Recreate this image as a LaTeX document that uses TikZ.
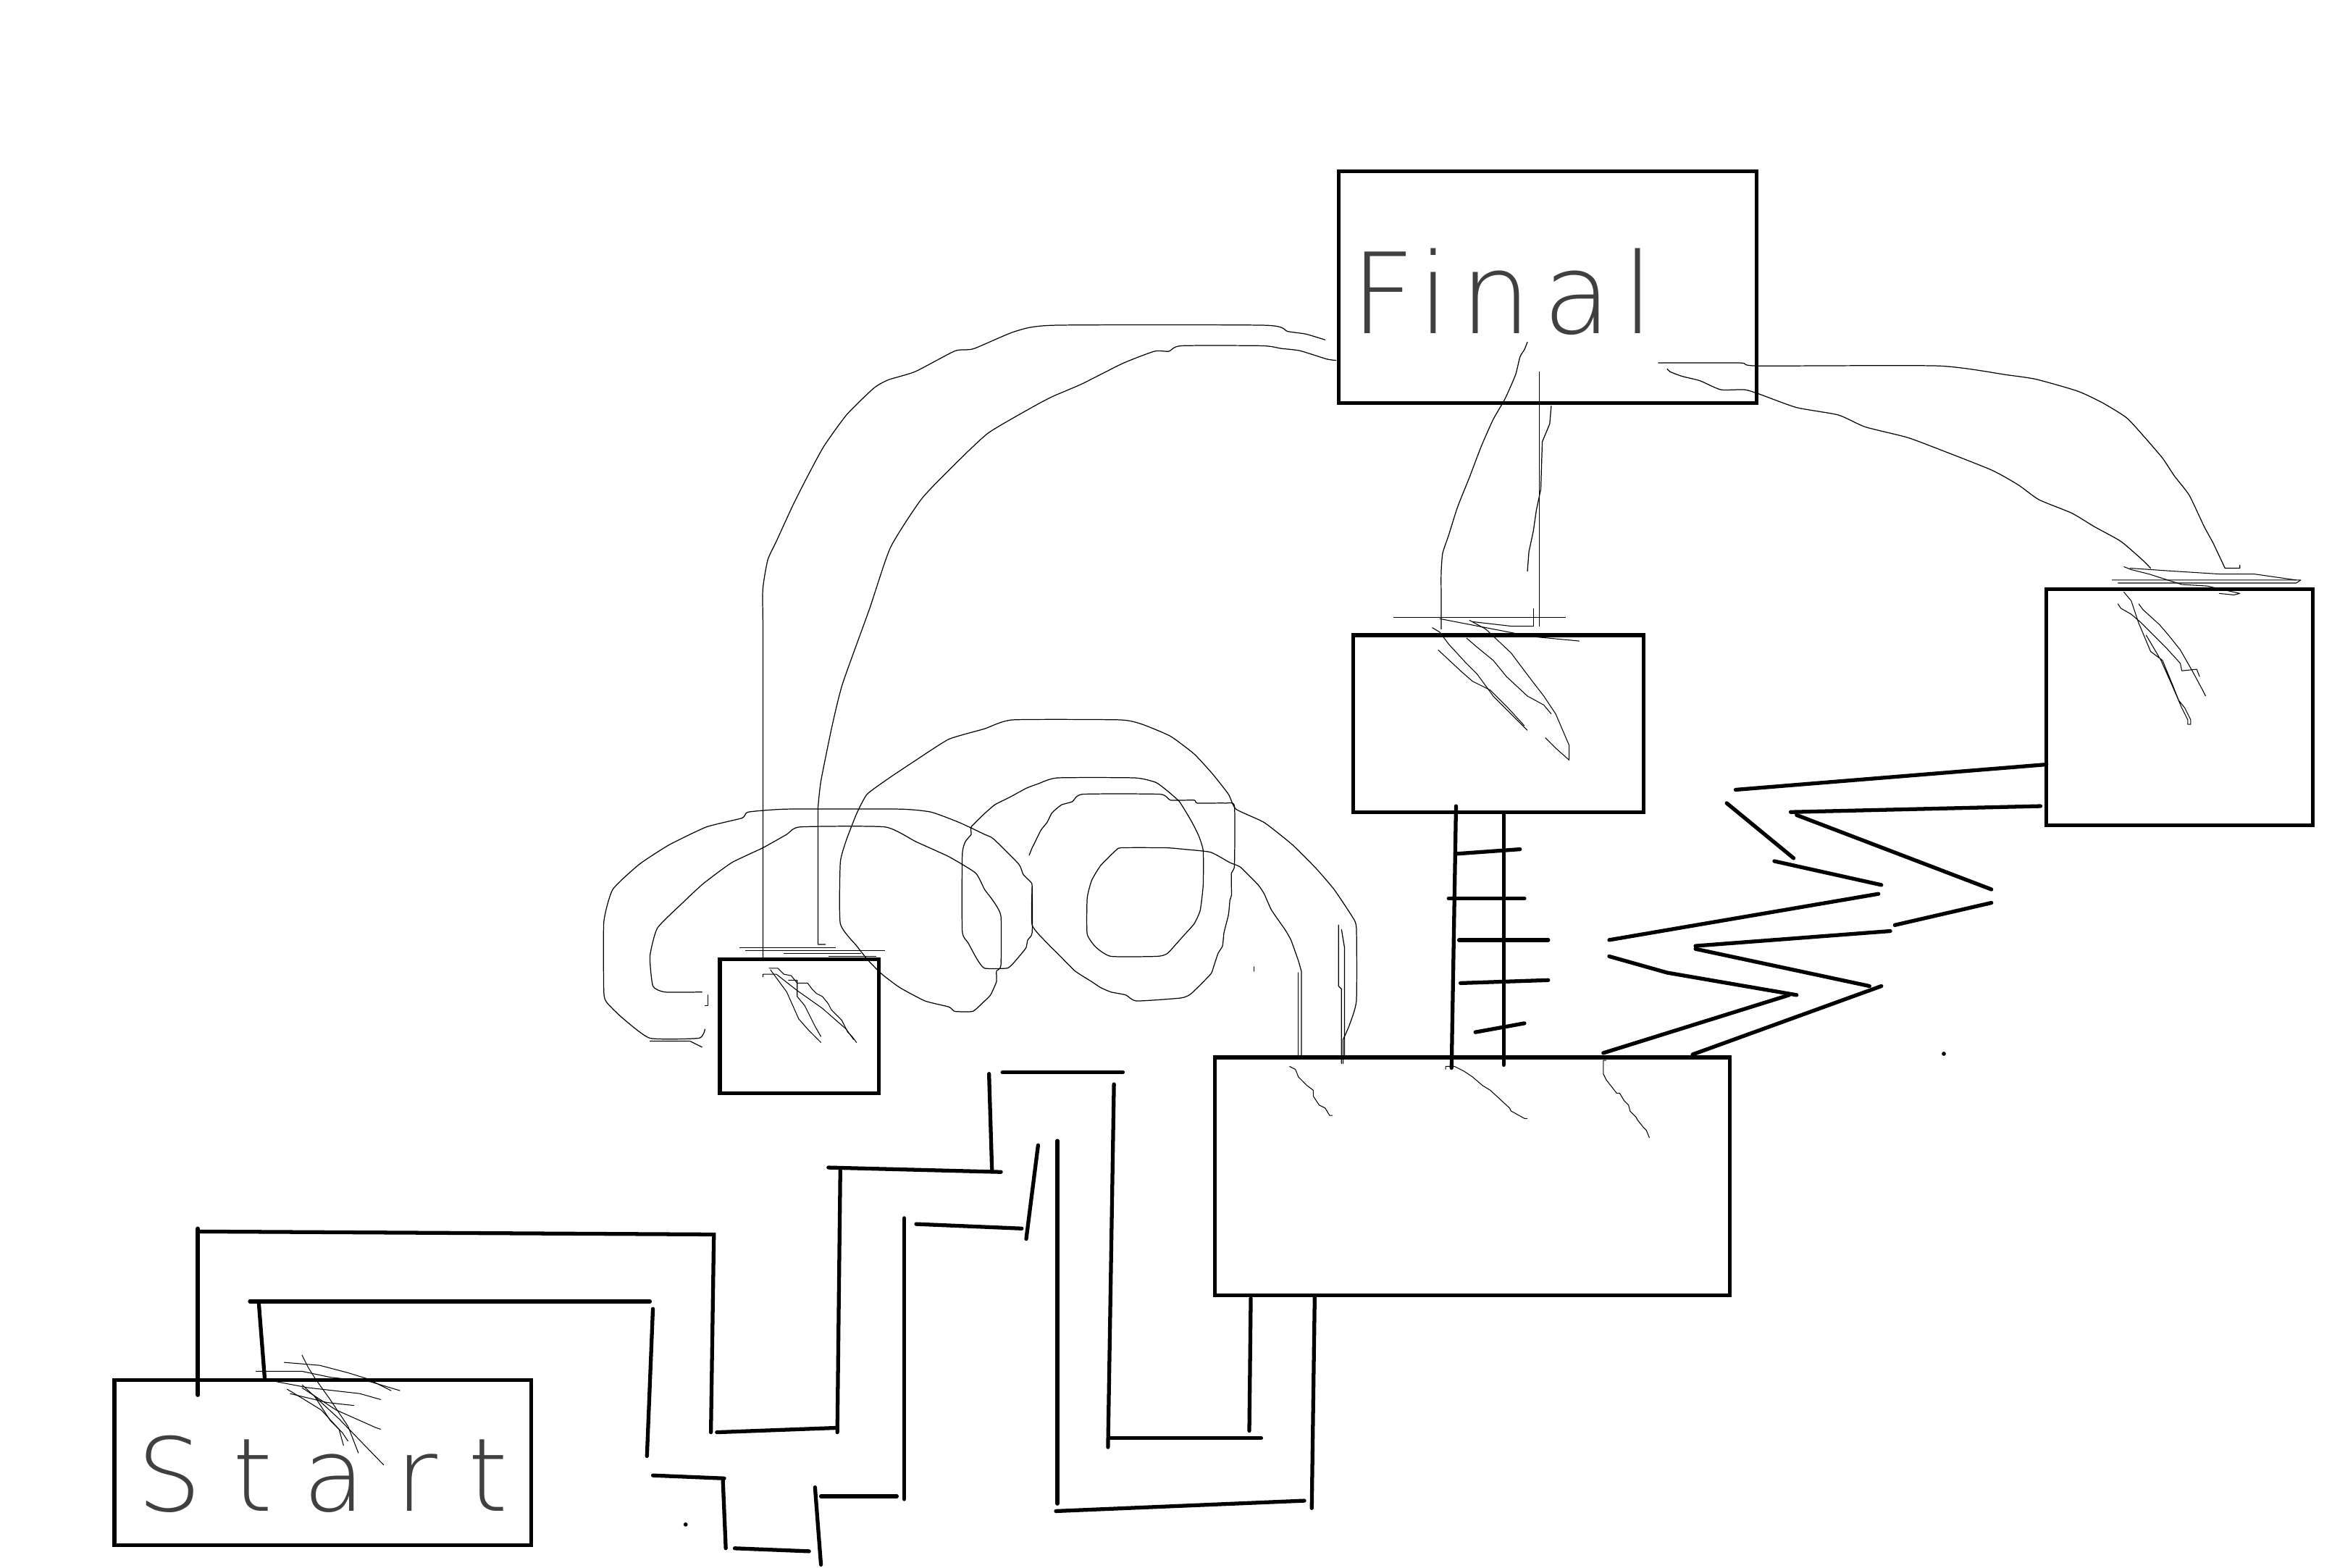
\documentclass[tikz,border=0pt]{standalone}
\usepackage{fontspec}
\newfontfamily\handfinal{DejaVu Sans}[UprightFont={* ExtraLight}, LetterSpace=10]
\newfontfamily\handstart{DejaVu Sans}[UprightFont={* ExtraLight}, LetterSpace=30]
\usetikzlibrary{fit}
\tikzset{
  box/.style={draw=black, line width=1.5pt, inner sep=0pt, outer sep=0pt},
  wall/.style={line width=1.5pt, line cap=round},
  pen/.style={line width=0.35pt, line join=round, line cap=round},
  scrib/.style={line width=0.3pt, line join=round},
  hand/.style={anchor=base west, inner sep=0pt, text=black!75},
}
\begin{document}
\begin{tikzpicture}[x=0.020536cm, y=-0.020536cm]
\useasboundingbox (0,0) rectangle (1568,1054);

% ---------- boxes ----------
\node[box, fit={(900,115) (1181,271)}] (final) {};
\node[box, fit={(910,427) (1105,546)}] (mid) {};
\node[box, fit={(1376,396) (1555,555)}] (right) {};
\node[box, fit={(484,645) (591,735)}] (small) {};
\node[box, fit={(817,711) (1163,871)}] (big) {};
\node[box, fit={(77,928) (357,1039)}] (start) {};

% ---------- texts ----------
\node[hand, font=\handfinal\fontsize{44}{48}\selectfont] (finaltext) at (908,224) {Final};
\node[hand, font=\handstart\fontsize{40}{44}\selectfont] (starttext) at (92,1016) {Start};

% ---------- ladder ----------
\draw[wall] (979,542) -- (976,718);
\draw[wall] (1011,547) -- (1011,716);
\draw[wall] (980,574) -- (1022,571);
\draw[wall] (974,604) -- (1025,604);
\draw[wall] (981,632) -- (1041,632);
\draw[wall] (982,661) -- (1041,659);
\draw[wall] (992,694) -- (1025,688);

% ---------- zigzag ----------
\draw[wall] (1167,531) -- (1376,514);
\draw[wall] (1161,540) -- (1206,577);
\draw[wall] (1204,546) -- (1372,542);
\draw[wall] (1208,548) -- (1339,598);
\draw[wall] (1193,579) -- (1265,595);
\draw[wall] (1263,601) -- (1082,632);
\draw[wall] (1274,622) -- (1339,607);
\draw[wall] (1271,626) -- (1140,636);
\draw[wall] (1140,638) -- (1257,663);
\draw[wall] (1082,643) -- (1121,654) -- (1208,669);
\draw[wall] (1203,669) -- (1078,708);
\draw[wall] (1265,663) -- (1138,709);
\fill (1307,708.5) circle (1.4);

% ---------- bottom maze ----------
\draw[wall] (674,721) -- (755,721);
\draw[wall] (665,722) -- (667,787);
\draw[wall] (557,785) -- (673,788);
\draw[wall] (565,787) -- (563,963);
\draw[wall] (133,826) -- (133,938);
\draw[wall] (133,828) -- (480,830) -- (478,963);
\draw[wall] (482,963) -- (563,960);
\draw[wall] (749,729) -- (745,973);
\draw[wall] (746,967) -- (848,967);
\draw[wall] (841,873) -- (840,962);
\draw[wall] (884,871) -- (882,1014);
\draw[wall] (877,1009) -- (710,1016);
\draw[wall] (711,767) -- (711,1011);
\draw[wall] (698,770) -- (690,833);
\draw[wall] (687,826) -- (616,823);
\draw[wall] (608,819) -- (608,1008);
\draw[wall] (603,1006) -- (552,1006);
\draw[wall] (548,1000) -- (552,1052);
\draw[wall] (439,992) -- (487,994);
\draw[wall] (486,994) -- (488,1041);
\draw[wall] (494,1041) -- (544,1043);
\draw[wall] (439,880) -- (435,979);
\draw[wall] (168,875) -- (437,875);
\draw[wall] (174,876) -- (178,927);
\fill (461,1025) circle (1.4);

% ---------- curves from Final ----------
% outer left curve to small box
\draw[pen] plot[smooth, tension=0.35] coordinates {(891,228.5) (878,224.6) (865.6,222.8) (850.3,218.7) (709,218.7) (682.6,222.8) (654.6,234.5) (642,236) (615.5,249.8) (597.3,255.4) (587.5,261) (569.4,278.7) (554,300) (542.8,320.6) (533,340) (521.8,364.4) (516.2,376.5) (512.9,396.1) (513,420)} -- (513,644);
% inner left curve to small box
\draw[pen] plot[smooth, tension=0.35] coordinates {(898.3,242.3) (892,241.4) (874,235.8) (861.4,234.3) (848.9,232.5) (794.4,232.5) (786,236.2) (776.2,236.2) (755.2,244.2) (727.3,258.2) (707.7,266.6) (693.7,274) (664.4,291.2) (642,312.2) (619.6,335.5) (598.7,368.2) (584.7,409.2) (566.6,459.5) (559.5,488) (552,525) (550,543)} -- (550,635) -- (555,635);
% Final to mid box (curved)
\draw[pen] plot[smooth, tension=0.35] coordinates {(1027,230) (1025,235) (1022,240) (1019,252) (1012,268) (1004,282) (996,300) (988,321) (980,341) (974,360) (970,372) (969,385) (969,400)} -- (969,423);
\draw[pen] (1035,250) -- (1035,421);
\draw[pen] (1043,273) -- (1042,285) -- (1037,297) -- (1036,329) -- (1033,343) -- (1031,357) -- (1028,371) -- (1027,384);
% Final to right box
\draw[pen] plot[smooth, tension=0.35] coordinates {(1115,244) (1170,244) (1182,246) (1303,246) (1349,252) (1369,255) (1397,263) (1414,271) (1430,281) (1442,294) (1454,308) (1462,320) (1472,333) (1482,354) (1488,365) (1496,382)} -- (1506,382) -- (1506,380);
\draw[pen] plot[smooth, tension=0.35] coordinates {(1121,248) (1123,250) (1131,253) (1143,256) (1157,262) (1173,262) (1183,265) (1208,274) (1236,279) (1254,287) (1282,294) (1301,301) (1339,316) (1357,326) (1371,336) (1393,345) (1408,354) (1426,364) (1440,376) (1446,382)};

% ---------- loops ----------
% spiral from small box to big box
\draw[pen] plot[smooth, tension=0.3] coordinates {(472,667) (447,667) (439,663) (437,643) (442,624) (459,607) (473,594) (492,580) (513,570) (529,561) (538,556) (595,556) (616,566) (638,576) (656,587) (662,598) (668,606) (673,616) (673,649) (670,653) (670,660) (666,669) (661,674) (654,680) (642,680) (638,677) (622,673) (605,664) (593,655) (584,646) (576,636) (565,621) (565,580) (569,565) (576,547) (583,534) (598,523) (616,511) (638,497) (662,490) (681,484) (753,484) (768,487) (787,495) (803,507) (815,520) (826,534) (831,544) (850,553) (869,568) (885,584) (897,598) (909,616) (912,624) (912,673) (907,690) (903,699)} -- (903,715);
% outer loop
\draw[pen] plot[smooth, tension=0.3] coordinates {(474,692) (470,698) (437,698) (418,684) (408,674) (406,667) (406,620) (412,598) (430,581) (450,568) (475,556) (499,550) (503,546) (529,544) (605,544) (626,546) (645,553) (662,561) (668,564) (685,581) (688,588) (693,593) (694,596) (694,627) (691,632) (690,637) (687,641) (681,648) (677,651) (662,651) (657,645) (651,634) (647,626) (647,575) (649,566) (653,561) (653,556) (662,547) (669,541) (679,536) (690,530) (698,527) (711,523) (763,523) (777,526) (784,531) (793,539) (801,552) (806,562) (809,572) (809,595) (807,612) (803,621) (795,630) (785,641) (778,643) (747,643) (737,637) (731,628) (731,604) (734,592) (740,582) (750,572) (754,570) (784,570) (796,571) (814,573) (827,580) (834,583) (846,595) (850,601) (855,612) (864,625) (868,632) (873,646) (875,653)} -- (875,711);
\draw[pen] (437,700) -- (464,700) -- (472,704);
% middle loop
\draw[pen] plot[smooth, tension=0.3] coordinates {(692,575) (694,570) (696,566) (700,558) (704,553) (707,547) (710,544) (714,541) (721,539) (728,534) (780,534) (787,538) (803,538) (805,540) (824,540) (830,542) (830,582) (828,587) (828,602) (827,605) (826,615) (823,627) (822,636) (819,641) (816,650) (814,655) (801,668) (794,671) (764,673) (757,669) (747,667) (740,664) (734,660) (723,653) (712,642) (704,634) (694,622) (694,596)};
\draw[pen] (476,669) -- (476,676) -- (474,676);
\draw[pen] (900,622) -- (900,663) -- (902,665) -- (902,715);
\draw[pen] (902,625) -- (904,637) -- (904,711);
\draw[pen] (873,654) -- (873,711);
\draw[pen] (843,650) -- (843,653);

% ---------- scribbles: small box ----------
\draw[scrib] (497,637) -- (562,637);
\draw[scrib] (501,639) -- (595,639);
\draw[scrib] (527,641) -- (579,641);
\draw[scrib] (557,643) -- (589,643);
\draw[scrib] (517,651) -- (523,651) -- (527,655) -- (532,656) -- (536,661) -- (543,661) -- (546,665) -- (549,668) -- (553,670) -- (557,675) -- (559,679) -- (563,683) -- (566,686) -- (569,692) -- (570,694) -- (573,697) -- (576,701);
\draw[scrib] (518,652) -- (529,667) -- (537,685) -- (544,693) -- (552,701);
\draw[scrib] (513,657) -- (513,655) -- (522,655) -- (536,666) -- (553,678) -- (569,692) -- (574,699);
\draw[scrib] (530,659) -- (536,659) -- (536,670) -- (541,676) -- (548,690) -- (552,697);

% ---------- scribbles: mid box ----------
\draw[scrib] (937,415) -- (1053,415);
\draw[scrib] (968,416) -- (1030,428) -- (1062,431);
\draw[scrib] (990,418) -- (1016,421) -- (1031,421);
\draw[scrib] (1031,409) -- (1031,421);
\draw[scrib] (963,422) -- (968,425) -- (974,433) -- (985,445) -- (993,453) -- (1004,468) -- (1018,482) -- (1027,491);
\draw[scrib] (967,437) -- (982,451) -- (990,458) -- (1002,464) -- (1014,476) -- (1025,488);
\draw[scrib] (986,429) -- (993,435) -- (1004,444) -- (1013,455) -- (1027,468) -- (1038,474) -- (1043,480);
\draw[scrib] (988,417) -- (999,423) -- (1016,439) -- (1028,455) -- (1038,468) -- (1046,480) -- (1055,501) -- (1055,511) -- (1046,503) -- (1039,496);

% ---------- scribbles: right box ----------
\draw[scrib] (1428,381) -- (1433,383) -- (1445,386) -- (1467,393) -- (1484,394) -- (1506,399) -- (1502,400) -- (1492,399);
\draw[scrib] (1420,390) -- (1547,390) -- (1544,392) -- (1424,392);
\draw[scrib] (1432,382) -- (1461,384) -- (1493,386) -- (1516,386) -- (1544,390);
\draw[scrib] (1428,398) -- (1433,404) -- (1436,413) -- (1438,419) -- (1441,426) -- (1446,438) -- (1454,444) -- (1461,461) -- (1465,471) -- (1469,476) -- (1473,484) -- (1473,487) -- (1471,487) -- (1471,484) -- (1467,476) -- (1461,462) -- (1453,444) -- (1443,427);
\draw[scrib] (1424,406) -- (1426,409) -- (1433,413) -- (1440,419) -- (1448,427) -- (1456,435) -- (1466,446) -- (1467,451) -- (1477,450) -- (1479,455);
\draw[scrib] (1438,406) -- (1441,410) -- (1452,420) -- (1458,427) -- (1466,437) -- (1474,451) -- (1481,464) -- (1483,468);

% ---------- scribbles: big box ----------
\draw[scrib] (867,717) -- (871,719) -- (873,724) -- (879,730) -- (883,733) -- (883,737) -- (887,743) -- (891,745) -- (894,750) -- (896,750);
\draw[scrib] (972,719) -- (972,717) -- (978,717) -- (984,720) -- (990,724) -- (997,730) -- (1002,733) -- (1015,745) -- (1016,747) -- (1025,752) -- (1027,752);
\draw[scrib] (1080,713) -- (1078,713) -- (1078,722) -- (1080,726) -- (1087,735) -- (1089,735) -- (1092,740) -- (1095,743) -- (1096,747) -- (1100,751) -- (1101,753) -- (1105,758) -- (1107,760) -- (1109,765);

% ---------- scribbles: start box ----------
\draw[scrib] (191,916) -- (215,918) -- (234,923) -- (247,927) -- (263,935);
\draw[scrib] (172,922) -- (203,922) -- (222,926) -- (249,929) -- (269,935);
\draw[scrib] (203,911) -- (207,919) -- (212,927) -- (222,941) -- (234,959) -- (241,977);
\draw[scrib] (193,934) -- (203,940) -- (216,948) -- (228,961) -- (231,972);
\draw[scrib] (186,929) -- (207,933) -- (242,937) -- (256,941);
\draw[scrib] (195,937) -- (220,943) -- (238,945);
\draw[scrib] (203,933) -- (226,948) -- (253,960) -- (256,961);
\draw[scrib] (203,931) -- (228,954) -- (258,985);
\draw[scrib] (211,938) -- (222,955) -- (230,963) -- (234,969);
\end{tikzpicture}
\end{document}
